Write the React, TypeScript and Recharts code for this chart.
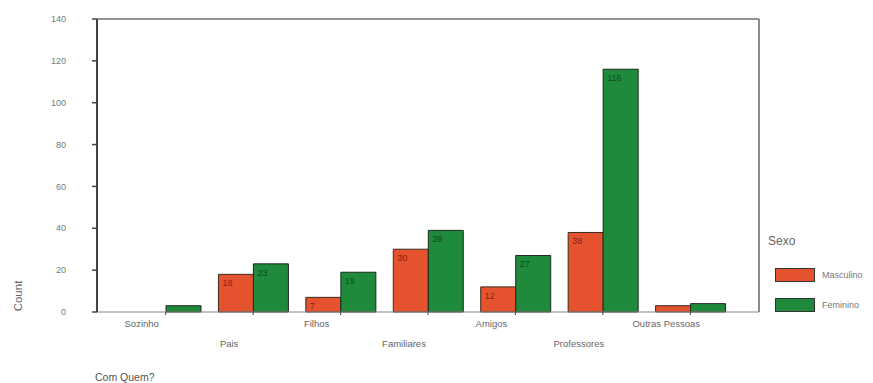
import React from 'react';
import { BarChart, Bar, XAxis, YAxis, LabelList, Label, ReferenceLine } from 'recharts';

const categories = ['Sozinho', 'Pais', 'Filhos', 'Familiares', 'Amigos', 'Professores', 'Outras Pessoas'];
const masculino = [0, 18, 7, 30, 12, 38, 3];
const feminino = [3, 23, 19, 39, 27, 116, 4];
const yTicks = [0, 20, 40, 60, 80, 100, 120, 140];

const seriesNames = ['Masculino', 'Feminino'];
const seriesColors = ['#e4532e', '#1f8a3b'];
const labelColors = ['#8a1c10', '#0d4a1b'];

const data = categories.map((name, i) => ({
  name,
  Masculino: masculino[i],
  Feminino: feminino[i],
}));

const FONT = 'Arial, "Liberation Sans", sans-serif';

function StaggerTick(props: any) {
  const { x, y, payload, index } = props;
  const dy = index % 2 === 0 ? 10 : 30;
  return (
    <text x={x - 24} y={y + dy} textAnchor="middle" fontSize={9.5} fill="#666" fontFamily={FONT}>
      {payload.value}
    </text>
  );
}

const barLabel = (color: string) => (props: any) => {
  const { x, y, value } = props;
  if (value < 5) return null;
  return (
    <text x={x + 4} y={y + 12} fontSize={9} fill={color} fontFamily={FONT}>
      {value}
    </text>
  );
};

export default function App() {
  return (
    <div style={{ position: 'absolute', left: 0, top: 0, width: 873, height: 383, background: '#fff', fontFamily: FONT }}>
      <BarChart
        width={873}
        height={383}
        data={data}
        margin={{ top: 19, right: 113, bottom: 26, left: 0 }}
        barGap={0}
      >
        <YAxis
          yAxisId="r"
          orientation="right"
          width={1}
          domain={[0, 140]}
          tick={false}
          tickLine={false}
          axisLine={{ stroke: '#666', strokeWidth: 1.5 }}
        />
        <XAxis
          xAxisId="bars"
          dataKey="name"
          height={45}
          padding={{ left: 25, right: 25 }}
          axisLine={{ stroke: '#888', strokeWidth: 1.2 }}
          tickLine={{ stroke: '#444' }}
          tickSize={3}
          tickMargin={2}
          interval={0}
          tick={<StaggerTick />}
        >
          <Label
            content={(p: any) => (
              <text x={p.viewBox.x - 2} y={p.viewBox.y + 69} fontSize={10.5} fill="#555" fontFamily={FONT}>
                Com Quem?
              </text>
            )}
          />
        </XAxis>
        <YAxis
          width={97}
          domain={[0, 140]}
          ticks={yTicks}
          interval={0}
          axisLine={{ stroke: '#444', strokeWidth: 2 }}
          tickLine={{ stroke: '#444', strokeWidth: 1.5 }}
          tickSize={5}
          tickMargin={26}
          tick={{ fontSize: 9, fill: '#777', fontFamily: FONT }}
        >
          <Label
            content={() => (
              <text
                x={0}
                y={0}
                transform="translate(22 296) rotate(-90)"
                textAnchor="middle"
                fontSize={11.5}
                fill="#666"
                fontFamily={FONT}
              >
                Count
              </text>
            )}
          />
        </YAxis>
        <ReferenceLine xAxisId="bars" y={140} stroke="#6e6e6e" strokeWidth={1.5} ifOverflow="visible" />
        <Bar
          xAxisId="bars"
          dataKey="Masculino"
          barSize={35}
          fill={seriesColors[0]}
          stroke="#3a2a20"
          strokeWidth={1}
          isAnimationActive={false}
        >
          <LabelList dataKey="Masculino" content={barLabel(labelColors[0])} />
        </Bar>
        <Bar
          xAxisId="bars"
          dataKey="Feminino"
          barSize={35}
          fill={seriesColors[1]}
          stroke="#1e2a1e"
          strokeWidth={1}
          isAnimationActive={false}
        >
          <LabelList dataKey="Feminino" content={barLabel(labelColors[1])} />
        </Bar>
      </BarChart>
      <div style={{ position: 'absolute', left: 768, top: 234, color: '#666', fontSize: 12 }}>Sexo</div>
      {seriesNames.map((name, i) => (
        <div key={name} style={{ position: 'absolute', left: 775, top: 268 + i * 30, display: 'flex', alignItems: 'center' }}>
          <div style={{ width: 40, height: 14, background: seriesColors[i], border: '1px solid #333', boxSizing: 'border-box' }} />
          <span style={{ marginLeft: 7, fontSize: 9, color: '#777' }}>{name}</span>
        </div>
      ))}
    </div>
  );
}
